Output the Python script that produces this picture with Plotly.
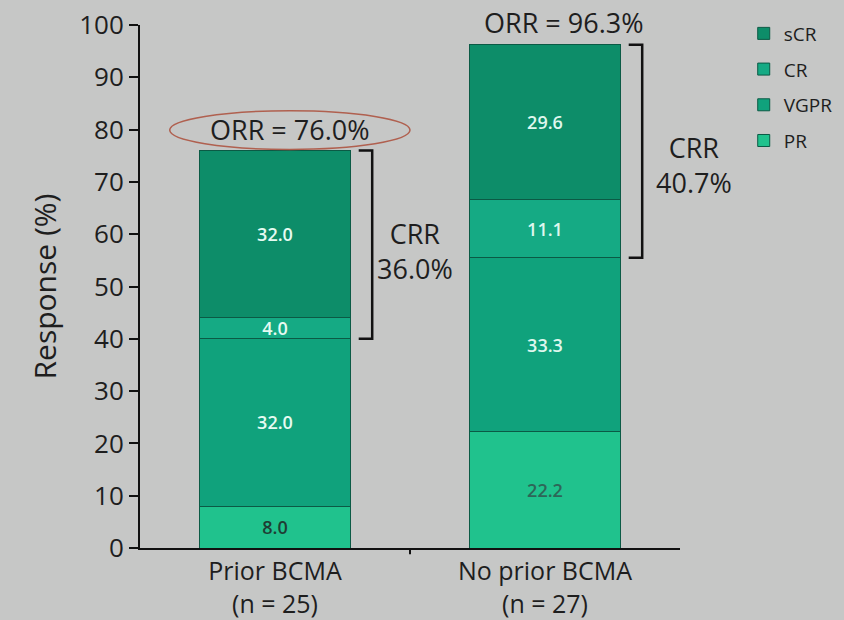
import plotly.graph_objects as go

# Response categories per cohort (percent of patients)
groups = ["Prior BCMA<br>(n = 25)", "No prior BCMA<br>(n = 27)"]
pr = [8.0, 22.2]
vgpr = [32.0, 33.3]
cr = [4.0, 11.1]
scr = [32.0, 29.6]
orr = [76.0, 96.3]
crr = [36.0, 40.7]

# name, values, fill, label colours, legend rank
series = [
    ("PR", pr, "#20c28d", ["#1f3d34", "#2d6658"], 4),
    ("VGPR", vgpr, "#10a27c", ["#e6fbf2", "#dff7ee"], 3),
    ("CR", cr, "#15aa84", ["#e6fbf2", "#dff7ee"], 2),
    ("sCR", scr, "#0d8d69", ["#e6fbf2", "#dff7ee"], 1),
]

xpos = [0, 1]
fig = go.Figure()
for name, vals, color, tcolors, rank in series:
    fig.add_trace(go.Bar(
        x=xpos, y=vals, name=name, legendgroup=name, legendrank=rank,
        marker=dict(color=color, line=dict(color="#0b5a45", width=1)),
        text=[f"{v:.1f}" for v in vals],
        textposition="inside", insidetextanchor="middle",
        constraintext="none",
        textfont=dict(size=18, color=tcolors, family="Open Sans", weight=600),
        width=0.56,
    ))

font_main = dict(family="Open Sans", size=27, color="#1e1e1e")
px_per_cat = 270

# ORR labels above each stack
for i, v in enumerate(orr):
    fig.add_annotation(x=xpos[i], y=v, xref="x", yref="y", text=f"ORR = {v:.1f}%",
                       showarrow=False, yanchor="bottom", yshift=1,
                       xshift=15 if i == 0 else 19, font=font_main)

# Highlight ring around the first ORR label
fig.add_shape(type="circle", xref="x", yref="y", x0=-0.39, x1=0.5, y0=76.2, y1=83.6,
              line=dict(color="#b0604f", width=1.5))

# CRR brackets spanning CR + sCR
crr_pos = [(0.52, 56.8), (0.55, 73.2)]
for i in range(2):
    top = pr[i] + vgpr[i] + cr[i] + scr[i]
    bot = pr[i] + vgpr[i]
    xa, xb = xpos[i] + 0.31, xpos[i] + 0.36
    fig.add_shape(type="path", xref="x", yref="y",
                  path=f"M {xa} {top} L {xb} {top} L {xb} {bot} L {xa} {bot}",
                  line=dict(color="#111111", width=2.5))
    dx, yc = crr_pos[i]
    anchor_dx = min(dx, 0.45)
    fig.add_annotation(x=xpos[i] + anchor_dx, y=yc, xref="x", yref="y",
                       xshift=(dx - anchor_dx) * px_per_cat,
                       text=f"CRR<br>{crr[i]:.1f}%",
                       showarrow=False, align="center",
                       font=dict(family="Open Sans", size=27, color="#1e1e1e"))

bg = "#c6c7c6"
fig.update_layout(
    width=844, height=620,
    margin=dict(l=140, r=164, t=25, b=72, autoexpand=False),
    paper_bgcolor=bg, plot_bgcolor=bg,
    barmode="stack",
    font=dict(family="Open Sans", color="#1e1e1e"),
    showlegend=True,
    legend=dict(traceorder="grouped", x=1.118, y=1.02, xanchor="left", yanchor="top",
                font=dict(size=19, color="#1e1e1e"), tracegroupgap=8,
                bgcolor="rgba(0,0,0,0)", itemwidth=30),
    yaxis=dict(range=[0, 100], tickvals=list(range(0, 101, 10)), showgrid=False,
               zeroline=False, showline=True, linecolor="#111111", linewidth=2,
               ticks="outside", ticklen=9, tickwidth=2, tickcolor="#111111",
               tickfont=dict(size=26, color="#1e1e1e"),
               title=dict(text="Response (%)", font=dict(size=30, color="#1e1e1e"), standoff=14),
               automargin=False),
    xaxis=dict(range=[-0.5, 1.5], tickvals=xpos, ticktext=groups, showgrid=False,
               zeroline=False, showline=True, linecolor="#111111", linewidth=2,
               ticks="", tickfont=dict(size=25, color="#1e1e1e"), automargin=False),
)

# Boundary tick between the two categories
fig.add_shape(type="line", xref="x", yref="paper", x0=0.5, x1=0.5, y0=0, y1=-0.012,
              line=dict(color="#111111", width=2))

fig.write_html("out.html")
